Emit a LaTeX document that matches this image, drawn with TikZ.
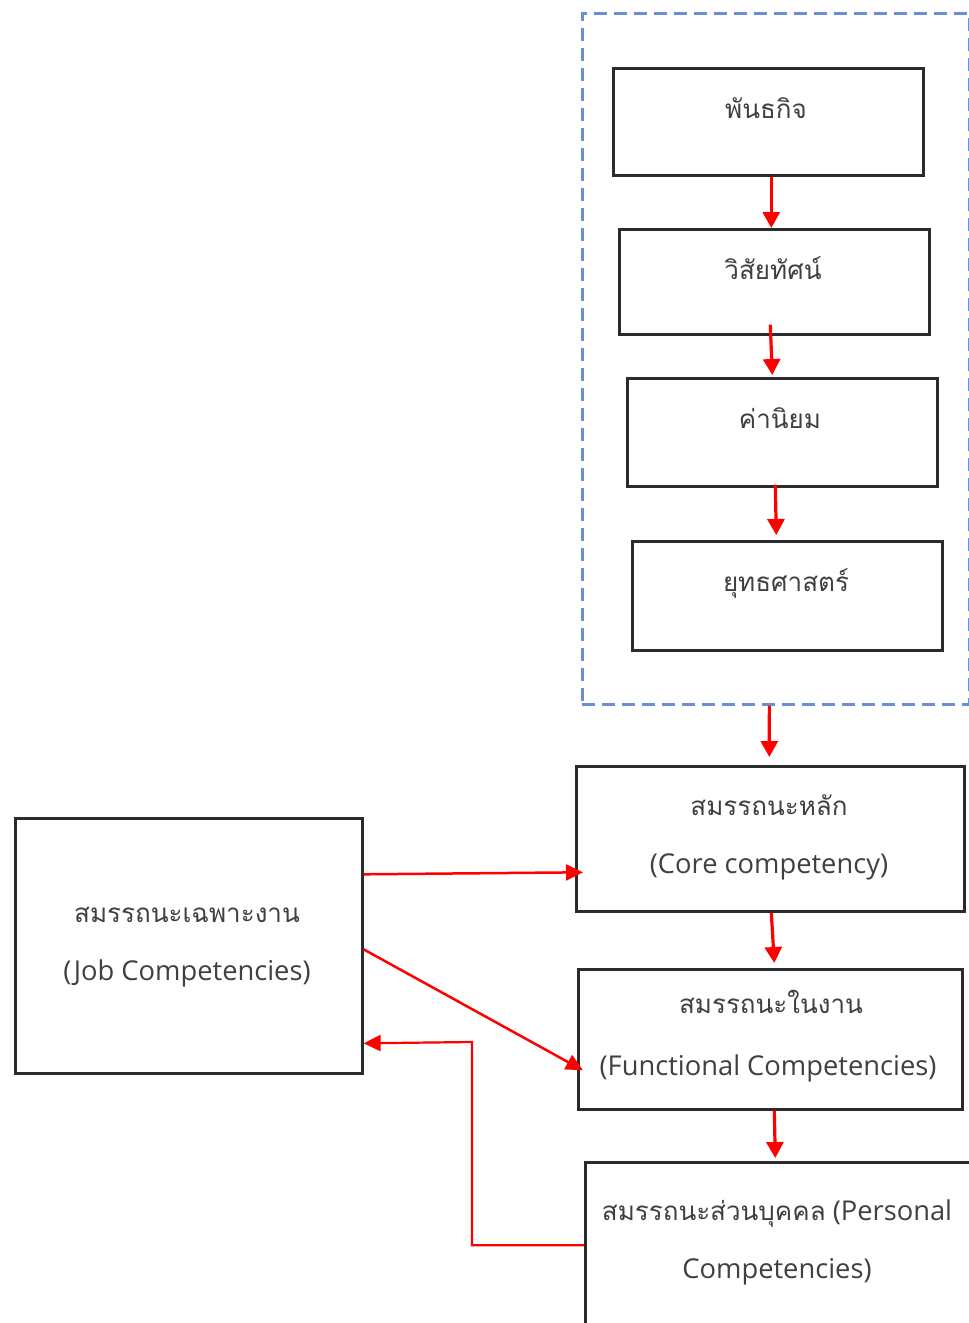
\documentclass[tikz,border=0pt]{standalone}
\usepackage{fontspec}
\setmainfont{Open Sans}
\newfontfamily\thai[Script=Thai,Scale=0.952]{Loma}
\usetikzlibrary{arrows.meta}
\definecolor{txt}{HTML}{404040}
\definecolor{boxc}{HTML}{2B2B2B}
\definecolor{dashc}{HTML}{6C8ED4}
\tikzset{
  box/.style={draw=boxc, line width=2.6pt, inner sep=0pt, anchor=north west},
  grpbox/.style={draw=dashc, line width=2.7pt, dash pattern=on 13pt off 7pt, inner sep=0pt, anchor=north west},
  lbl/.style={text=txt, font=\fontsize{27.3}{31}\selectfont, inner sep=0pt, anchor=base},
  rarr/.style={draw=red, line width=3.2pt, -{Triangle[length=16pt,width=17pt]}},
  rarrthin/.style={draw=red, line width=2.5pt, -{Triangle[length=17pt,width=16pt]}},
}
\begin{document}
\begin{tikzpicture}[x=1pt,y=-1pt]
\clip (0,0) rectangle (969,1323);
\fill[white] (0,0) rectangle (969,1323);
% group
\node[grpbox, minimum width=387pt, minimum height=691pt] (grp) at (581,12) {};
% top boxes
\node[box, minimum width=310pt, minimum height=107pt] (b1) at (612,67) {};
\node[box, minimum width=310pt, minimum height=105pt] (b2) at (618,228) {};
\node[box, minimum width=310pt, minimum height=108pt] (b3) at (626,377) {};
\node[box, minimum width=310pt, minimum height=109pt] (b4) at (631,540) {};
\node[lbl] (t1) at (766,118) {\thai พันธกิจ};
\node[lbl] (t2) at (773,279) {\thai วิสัยทัศน์};
\node[lbl] (t3) at (780,428) {\thai ค่านิยม};
\node[lbl] (t4) at (786,591) {\thai ยุทธศาสตร์};
% competency boxes
\node[box, minimum width=388pt, minimum height=145pt] (core) at (575,765) {};
\node[box, minimum width=384pt, minimum height=140pt] (func) at (577,968) {};
\node[box, minimum width=400pt, minimum height=200pt] (pers) at (584,1161) {};
\node[box, minimum width=347pt, minimum height=255pt] (job) at (14,817) {};
\node[lbl] (c1) at (769,815) {\thai สมรรถนะหลัก};
\node[lbl] (c2) at (769,873) {(Core competency)};
\node[lbl] (f1) at (771,1013) {\thai สมรรถนะในงาน};
\node[lbl] (f2) at (768,1075) {(Functional Competencies)};
\node[lbl] (p1) at (777,1220) {{\thai สมรรถนะส่วนบุคคล} (Personal};
\node[lbl] (p2) at (777,1278) {Competencies)};
\node[lbl] (j1) at (187,922) {\thai สมรรถนะเฉพาะงาน};
\node[lbl] (j2) at (187,980) {(Job Competencies)};
% connectors
\draw[rarr] ([xshift=3pt]b1.south) -- ([xshift=-3pt]b2.north);
\draw[rarr] ([xshift=-4pt,yshift=11pt]b2.south) -- ([xshift=-10pt,yshift=2pt]b3.north);
\draw[rarr] ([xshift=-7pt,yshift=3pt]b3.south) -- ([xshift=-11pt,yshift=5pt]b4.north);
\draw[rarr] ([xshift=-6.5pt]grp.south) -- ([xshift=-1pt,yshift=8pt]core.north);
\draw[rarr] ([xshift=1pt]core.south) -- ([xshift=4pt,yshift=5pt]func.north);
\draw[rarr] ([xshift=4pt]func.south) -- ([xshift=-10pt,yshift=3pt]pers.north);
\draw[rarrthin] ([yshift=71.5pt]job.east) -- ([xshift=8pt,yshift=-33.5pt]core.west);
\draw[rarrthin] ([yshift=-3.5pt]job.east) -- ([xshift=6pt,yshift=-31pt]func.west);
\coordinate (bend) at (472,1042);
\draw[rarrthin, line width=2.2pt] ([yshift=17pt]pers.west) -| (bend) -- ([yshift=-97.5pt]job.east);
\end{tikzpicture}
\end{document}
